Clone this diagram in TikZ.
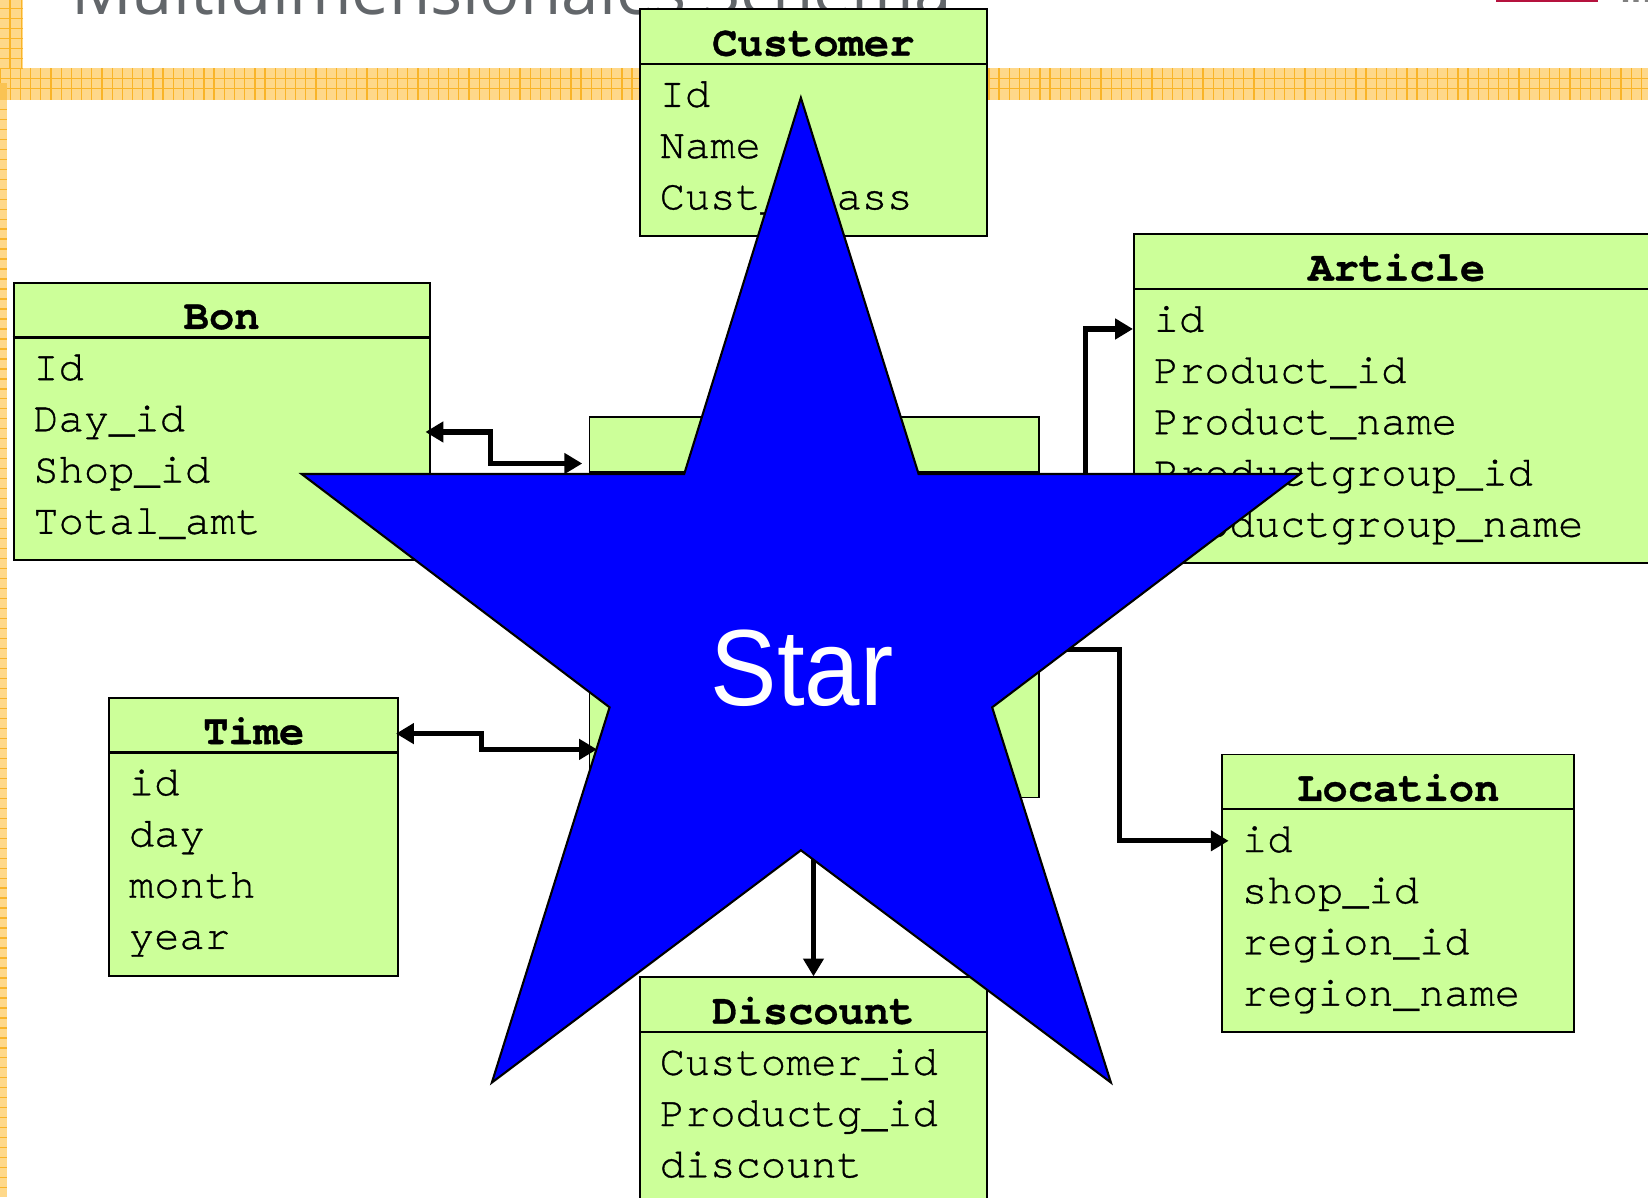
\documentclass[tikz,border=0pt]{standalone}
\usepackage{fontspec}
\setmainfont{Liberation Sans}
\newfontfamily\monofont[FakeBold=0.8]{TeX Gyre Cursor}
\newfontfamily\headfont{Open Sans}
\usetikzlibrary{arrows.meta,calc}
\definecolor{tblgreen}{RGB}{204,255,153}
\definecolor{starblue}{RGB}{0,0,255}
\definecolor{orfill}{RGB}{254,216,138}
\definecolor{orline}{RGB}{249,180,40}
\definecolor{titlegray}{RGB}{98,102,106}
\definecolor{redmark}{RGB}{181,18,62}
\tikzset{
  tbox/.style={draw=black, line width=0.018cm, fill=tblgreen, inner sep=0pt, rectangle},
  hline/.style={draw=black, line width=0.022cm},
  ttitle/.style={font=\monofont\bfseries\fontsize{11.4}{12}\selectfont, inner sep=0pt},
  trow/.style={font=\monofont\fontsize{11.4}{12}\selectfont, inner sep=0pt},
  conn/.style={draw=black, line width=0.05cm, line join=miter},
  gridln/.style={draw=orline, line width=0.012cm},
  >={Triangle[length=0.17cm,width=0.19cm]}
}
\newcommand{\ertable}[7]{%
  \pgfmathsetmacro{\tblh}{(53+#5*48.7+16.5)*0.01}%
  \node[tbox, anchor=north west, minimum width=#4*0.01cm, minimum height=\tblh cm] (#1) at (#2,#3) {};
  \draw[hline] ([yshift=-0.53cm]#1.north west) -- ([yshift=-0.53cm]#1.north east);
  \node[ttitle, anchor=base] (#1-title) at ([yshift=-0.45cm]#1.north) {#6};
  \foreach \r [count=\i] in {#7} {%
    \pgfmathsetmacro{\ry}{-(0.936+(\i-1)*0.487)}%
    \node[trow, anchor=base west] (#1-r\i) at ([xshift=0.19cm, yshift=\ry cm]#1.north west) {\r};
  }%
}
\begin{document}
\begin{tikzpicture}[x=0.01cm, y=-0.01cm]
\useasboundingbox (0,0) rectangle (1568,1139);
\fill[white] (0,0) rectangle (1568,1139);
% page decoration
\fill[orfill] (0,65) rectangle (1568,95);
\foreach \x in {0,9.7,...,1568} \draw[gridln] (\x,65) -- (\x,95);
\draw[gridln] (0,74.5) -- (1568,74.5) (0,84.5) -- (1568,84.5);
\fill[orfill] (0,0) rectangle (22,65);
\draw[gridln] (9.5,0) -- (9.5,65) (20.5,0) -- (20.5,65);
\foreach \y in {8,17.5,...,65} \draw[gridln] (0,\y) -- (22,\y);
\fill[orfill] (0,95) rectangle (6.5,1139);
\foreach \y in {104,113.5,...,1139} \draw[gridln] (0,\y) -- (6.5,\y);
\fill[orline!80] (0,79) rectangle (6.5,95);
\fill[redmark] (1423,0) rectangle (1520,2);
\fill[gray] (1544,0) rectangle (1549,1.8) (1554,0) rectangle (1559,1.8) (1565,0) rectangle (1568,1.8);
\node[font=\headfont\fontsize{18.2}{20}\selectfont, text=titlegray, anchor=base west, inner sep=0pt] (pagetitle) at (67,14) {Multidimensionales Schema};
% tables
\ertable{customer}{608}{8}{330}{3}{Customer}{Id,Name,Cust\_Class}
\ertable{bon}{12}{268}{396}{4}{Bon}{Id,Day\_id,Shop\_id,Total\_amt}
\ertable{article}{1078}{222}{500}{5}{Article}{id,Product\_id,Product\_name,Productgroup\_id,Productgroup\_name}
\ertable{time}{103}{663}{275}{4}{Time}{id,day,month,year}
\ertable{location}{1162}{717}{335}{4}{Location}{id,shop\_id,region\_id,region\_name}
\ertable{discount}{608}{929}{330}{3}{Discount}{Customer\_id,Productg\_id,discount}
\node[tbox, anchor=north west, minimum width=4.27cm, minimum height=3.617cm] (fact) at (560,396) {};
\draw[hline] ([yshift=-0.53cm]fact.north west) -- ([yshift=-0.53cm]fact.north east);
% connectors
\coordinate (bonA) at (467,411); \coordinate (bonB) at (467,441);
\draw[conn,<->, shorten <=-0.05cm, shorten >=0.06cm] (bon.east |- bonA) -- (bonA) -- (bonB) -- (fact.west |- bonB);
\coordinate (timeA) at (458,698); \coordinate (timeB) at (458,713);
\draw[conn,<->, shorten <=-0.03cm, shorten >=-0.08cm] (time.east |- timeA) -- (timeA) -- (timeB) -- (fact.west |- timeB);
\coordinate (artA) at (1033,480); \coordinate (artB) at (1033,313);
\draw[conn,->] (fact.east |- artA) -- (artA) -- (artB) -- (article.west |- artB);
\coordinate (locA) at (1065,618); \coordinate (locB) at (1065,800);
\draw[conn,->, shorten >=-0.07cm] (fact.east |- locA) -- (locA) -- (locB) -- (location.west |- locB);
\coordinate (discX) at (774,0);
\draw[conn,->] (fact.south -| discX) -- (discount.north -| discX);
% star
\draw[fill=starblue, draw=black, line width=0.02cm, line join=miter]
  (762,93) -- (874,451) -- (1237,451) -- (944,673) -- (1057,1030) -- (762,809)
  -- (468,1030) -- (580,673) -- (287,451) -- (651,451) -- cycle;
\node[font=\fontsize{29.3}{30}\selectfont, text=white, anchor=base, inner sep=0pt] (startext) at (763,671) {\scalebox{0.92}[1]{Star}};
\end{tikzpicture}
\end{document}
